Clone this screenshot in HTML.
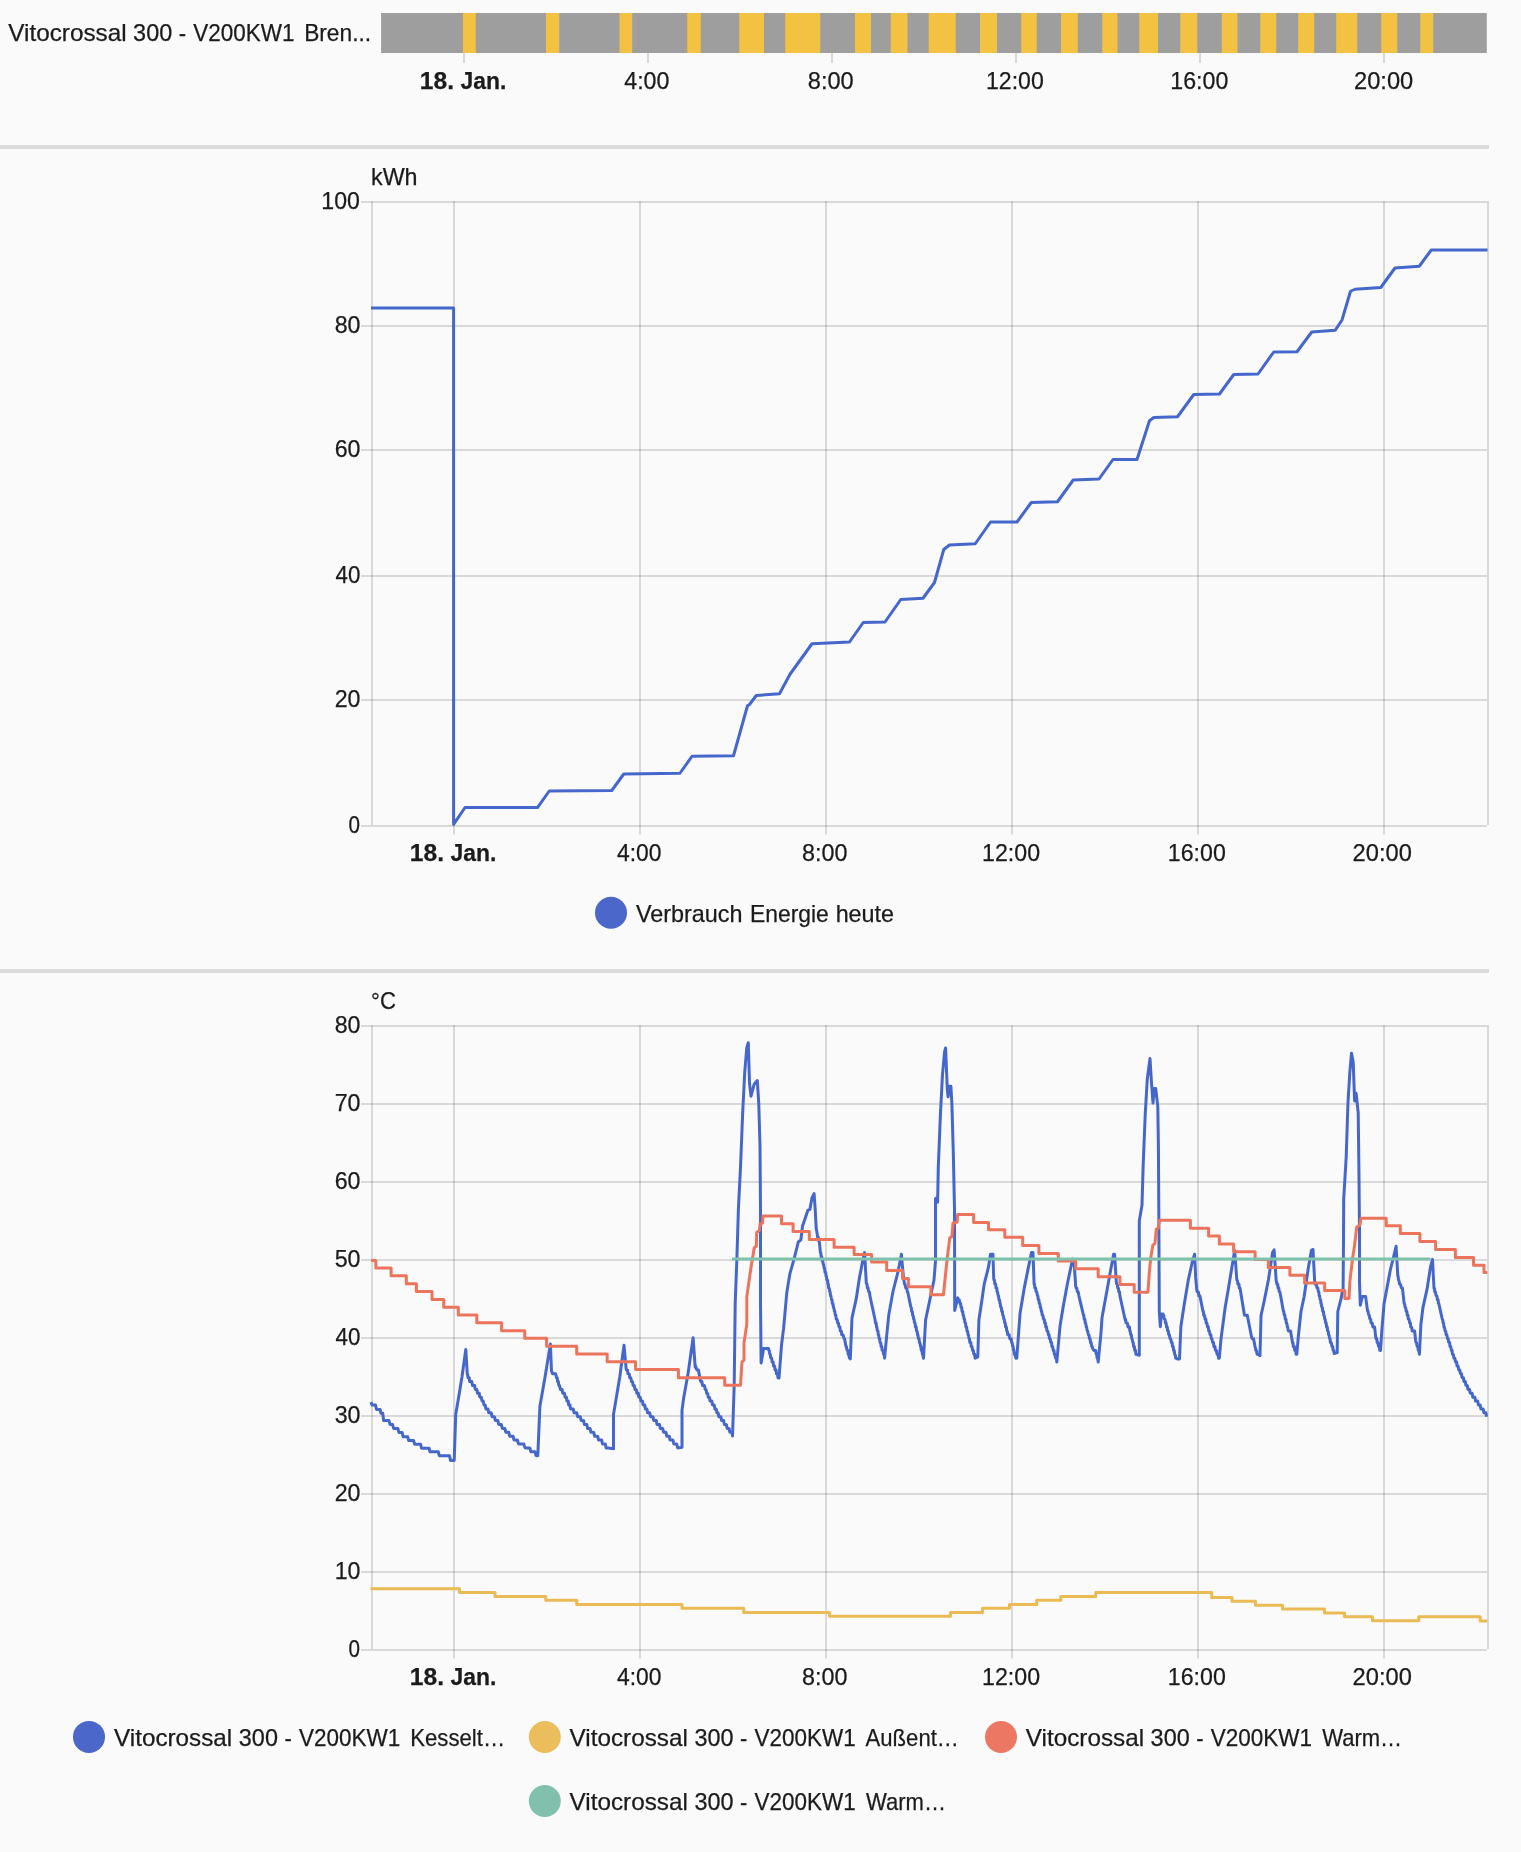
<!DOCTYPE html>
<html lang="de">
<head>
<meta charset="utf-8">
<title>Verlauf</title>
<style>
html,body{margin:0;padding:0;background:#fafafa;}
body{width:1521px;height:1852px;overflow:hidden;font-family:"Liberation Sans",sans-serif;}
svg{display:block;will-change:transform;transform:translateZ(0);}
svg text{font-family:"Liberation Sans",sans-serif;font-size:24px;fill:#1b1b1b;stroke:#1b1b1b;stroke-width:0.25px;}
</style>
</head>
<body>
<svg width="1521" height="1852" viewBox="0 0 1521 1852">
<rect width="1521" height="1852" fill="#fafafa"/>
<rect x="381.1" y="13" width="1105.7" height="40" fill="#9e9e9e"/>
<rect x="463" y="13" width="12.75" height="40" fill="#f3c242"/>
<rect x="546" y="13" width="13.25" height="40" fill="#f3c242"/>
<rect x="619.5" y="13" width="12.75" height="40" fill="#f3c242"/>
<rect x="687.25" y="13" width="13.5" height="40" fill="#f3c242"/>
<rect x="739.25" y="13" width="24.75" height="40" fill="#f3c242"/>
<rect x="785.25" y="13" width="35" height="40" fill="#f3c242"/>
<rect x="855" y="13" width="16" height="40" fill="#f3c242"/>
<rect x="890.75" y="13" width="16.75" height="40" fill="#f3c242"/>
<rect x="928.75" y="13" width="27" height="40" fill="#f3c242"/>
<rect x="980" y="13" width="17" height="40" fill="#f3c242"/>
<rect x="1021.25" y="13" width="15.5" height="40" fill="#f3c242"/>
<rect x="1061" y="13" width="16.75" height="40" fill="#f3c242"/>
<rect x="1102.25" y="13" width="15.25" height="40" fill="#f3c242"/>
<rect x="1139.25" y="13" width="18.75" height="40" fill="#f3c242"/>
<rect x="1180.25" y="13" width="17" height="40" fill="#f3c242"/>
<rect x="1221.75" y="13" width="15.75" height="40" fill="#f3c242"/>
<rect x="1260.25" y="13" width="16" height="40" fill="#f3c242"/>
<rect x="1298.25" y="13" width="16" height="40" fill="#f3c242"/>
<rect x="1336.25" y="13" width="21" height="40" fill="#f3c242"/>
<rect x="1381.25" y="13" width="16" height="40" fill="#f3c242"/>
<rect x="1420.25" y="13" width="13" height="40" fill="#f3c242"/>
<rect x="463" y="53" width="2" height="10" fill="rgba(0,0,0,0.13)"/>
<rect x="647" y="53" width="2" height="10" fill="rgba(0,0,0,0.13)"/>
<rect x="831" y="53" width="2" height="10" fill="rgba(0,0,0,0.13)"/>
<rect x="1015" y="53" width="2" height="10" fill="rgba(0,0,0,0.13)"/>
<rect x="1199" y="53" width="2" height="10" fill="rgba(0,0,0,0.13)"/>
<rect x="1383" y="53" width="2" height="10" fill="rgba(0,0,0,0.13)"/>
<text x="419.82" y="88.8" font-weight="bold" textLength="34.25" lengthAdjust="spacingAndGlyphs">18.</text>
<text x="460.47" y="88.8" font-weight="bold" textLength="45.81" lengthAdjust="spacingAndGlyphs">Jan.</text>
<text x="624.25" y="88.8" textLength="45.2" lengthAdjust="spacingAndGlyphs">4:00</text>
<text x="807.77" y="88.8" textLength="45.94" lengthAdjust="spacingAndGlyphs">8:00</text>
<text x="986.04" y="88.8" textLength="57.77" lengthAdjust="spacingAndGlyphs">12:00</text>
<text x="1170.28" y="88.8" textLength="58.03" lengthAdjust="spacingAndGlyphs">16:00</text>
<text x="1354.01" y="88.8" textLength="59.3" lengthAdjust="spacingAndGlyphs">20:00</text>
<text x="8.3" y="40.8" textLength="118.26" lengthAdjust="spacingAndGlyphs">Vitocrossal</text>
<text x="133.12" y="40.8" textLength="39.12" lengthAdjust="spacingAndGlyphs">300</text>
<text x="178.78" y="40.8" textLength="7.33" lengthAdjust="spacingAndGlyphs">-</text>
<text x="193.3" y="40.8" textLength="101.19" lengthAdjust="spacingAndGlyphs">V200KW1</text>
<text x="304.15" y="40.8" textLength="66.96" lengthAdjust="spacingAndGlyphs">Bren...</text>
<rect x="0" y="145" width="1489" height="4" fill="#dbdbdb"/>
<rect x="0" y="969" width="1489" height="4" fill="#dbdbdb"/>
<rect x="361" y="201" width="1126" height="2" fill="rgba(0,0,0,0.13)"/>
<text x="321.34" y="208.5" textLength="38.51" lengthAdjust="spacingAndGlyphs">100</text>
<rect x="361" y="325" width="1126" height="2" fill="rgba(0,0,0,0.13)"/>
<text x="334.63" y="332.5" textLength="25.85" lengthAdjust="spacingAndGlyphs">80</text>
<rect x="361" y="449" width="1126" height="2" fill="rgba(0,0,0,0.13)"/>
<text x="334.63" y="456.5" textLength="25.85" lengthAdjust="spacingAndGlyphs">60</text>
<rect x="361" y="575" width="1126" height="2" fill="rgba(0,0,0,0.13)"/>
<text x="335.6" y="582.5" textLength="24.85" lengthAdjust="spacingAndGlyphs">40</text>
<rect x="361" y="699" width="1126" height="2" fill="rgba(0,0,0,0.13)"/>
<text x="334.63" y="706.5" textLength="25.85" lengthAdjust="spacingAndGlyphs">20</text>
<rect x="361" y="825" width="1126" height="2" fill="rgba(0,0,0,0.13)"/>
<text x="348.6" y="832.5" textLength="11.51" lengthAdjust="spacingAndGlyphs">0</text>
<rect x="371" y="201" width="2" height="624" fill="rgba(0,0,0,0.13)"/>
<rect x="1487" y="201" width="2" height="624" fill="rgba(0,0,0,0.13)"/>
<rect x="453" y="201" width="2" height="633.5" fill="rgba(0,0,0,0.13)"/>
<rect x="639" y="201" width="2" height="633.5" fill="rgba(0,0,0,0.13)"/>
<rect x="825" y="201" width="2" height="633.5" fill="rgba(0,0,0,0.13)"/>
<rect x="1011" y="201" width="2" height="633.5" fill="rgba(0,0,0,0.13)"/>
<rect x="1197" y="201" width="2" height="633.5" fill="rgba(0,0,0,0.13)"/>
<rect x="1383" y="201" width="2" height="633.5" fill="rgba(0,0,0,0.13)"/>
<text x="409.82" y="860.6" font-weight="bold" textLength="34.25" lengthAdjust="spacingAndGlyphs">18.</text>
<text x="450.47" y="860.6" font-weight="bold" textLength="45.81" lengthAdjust="spacingAndGlyphs">Jan.</text>
<text x="617" y="860.6" textLength="44.43" lengthAdjust="spacingAndGlyphs">4:00</text>
<text x="802.03" y="860.6" textLength="45.42" lengthAdjust="spacingAndGlyphs">8:00</text>
<text x="982.03" y="860.6" textLength="58.03" lengthAdjust="spacingAndGlyphs">12:00</text>
<text x="1167.78" y="860.6" textLength="58.03" lengthAdjust="spacingAndGlyphs">16:00</text>
<text x="1352.61" y="860.6" textLength="59.25" lengthAdjust="spacingAndGlyphs">20:00</text>
<text x="371.03" y="184.9" textLength="46.54" lengthAdjust="spacingAndGlyphs">kWh</text>
<polyline points="371,308 453.6,308 453.6,824.3 465,807.5 537.5,807.6 549.25,791 611.75,790.5 623.75,774 680,773.25 692,756.25 733.5,755.75 747.5,705.75 749.5,704.5 756.25,695.5 779.5,693.75 790,674.25 812,643.75 849.5,642 863.25,622.5 885,622 900.75,599.5 923,598.25 934.5,582.5 943.75,549.5 949.5,545 975.25,543.75 990.5,522 1017,522 1031.25,502.5 1057.5,501.75 1073.25,480 1099,479 1113,459.5 1137,459.5 1149.5,420.75 1153.75,417.5 1177.5,416.75 1193.75,394.5 1219.5,394 1233.75,374.5 1258,374 1273.75,352 1297,351.75 1311.75,332 1335.25,330.25 1342,320 1350.5,291.25 1355,289.25 1380.75,287.5 1395,268 1419.25,266.25 1431.25,250 1487.5,250" fill="none" stroke="#4567cc" stroke-width="3" stroke-linejoin="round" stroke-linecap="butt" />
<circle cx="611" cy="912.8" r="16" fill="#4b67c9"/>
<text x="635.9" y="921.8" textLength="106.5" lengthAdjust="spacingAndGlyphs">Verbrauch</text>
<text x="750.05" y="921.8" textLength="78.75" lengthAdjust="spacingAndGlyphs">Energie</text>
<text x="835.63" y="921.8" textLength="58.43" lengthAdjust="spacingAndGlyphs">heute</text>
<rect x="361" y="1025" width="1126" height="2" fill="rgba(0,0,0,0.13)"/>
<text x="334.63" y="1032.5" textLength="25.85" lengthAdjust="spacingAndGlyphs">80</text>
<rect x="361" y="1103" width="1126" height="2" fill="rgba(0,0,0,0.13)"/>
<text x="334.63" y="1110.5" textLength="25.85" lengthAdjust="spacingAndGlyphs">70</text>
<rect x="361" y="1181" width="1126" height="2" fill="rgba(0,0,0,0.13)"/>
<text x="334.63" y="1188.5" textLength="25.85" lengthAdjust="spacingAndGlyphs">60</text>
<rect x="361" y="1259" width="1126" height="2" fill="rgba(0,0,0,0.13)"/>
<text x="334.63" y="1266.5" textLength="25.85" lengthAdjust="spacingAndGlyphs">50</text>
<rect x="361" y="1337" width="1126" height="2" fill="rgba(0,0,0,0.13)"/>
<text x="335.6" y="1344.5" textLength="24.85" lengthAdjust="spacingAndGlyphs">40</text>
<rect x="361" y="1415" width="1126" height="2" fill="rgba(0,0,0,0.13)"/>
<text x="334.63" y="1422.5" textLength="25.85" lengthAdjust="spacingAndGlyphs">30</text>
<rect x="361" y="1493" width="1126" height="2" fill="rgba(0,0,0,0.13)"/>
<text x="334.63" y="1500.5" textLength="25.85" lengthAdjust="spacingAndGlyphs">20</text>
<rect x="361" y="1571" width="1126" height="2" fill="rgba(0,0,0,0.13)"/>
<text x="334.63" y="1578.5" textLength="25.85" lengthAdjust="spacingAndGlyphs">10</text>
<rect x="361" y="1649" width="1126" height="2" fill="rgba(0,0,0,0.13)"/>
<text x="348.6" y="1656.5" textLength="11.51" lengthAdjust="spacingAndGlyphs">0</text>
<rect x="371" y="1025" width="2" height="624" fill="rgba(0,0,0,0.13)"/>
<rect x="1487" y="1025" width="2" height="624" fill="rgba(0,0,0,0.13)"/>
<rect x="453" y="1025" width="2" height="633.5" fill="rgba(0,0,0,0.13)"/>
<rect x="639" y="1025" width="2" height="633.5" fill="rgba(0,0,0,0.13)"/>
<rect x="825" y="1025" width="2" height="633.5" fill="rgba(0,0,0,0.13)"/>
<rect x="1011" y="1025" width="2" height="633.5" fill="rgba(0,0,0,0.13)"/>
<rect x="1197" y="1025" width="2" height="633.5" fill="rgba(0,0,0,0.13)"/>
<rect x="1383" y="1025" width="2" height="633.5" fill="rgba(0,0,0,0.13)"/>
<text x="409.82" y="1684.6" font-weight="bold" textLength="34.25" lengthAdjust="spacingAndGlyphs">18.</text>
<text x="450.47" y="1684.6" font-weight="bold" textLength="45.81" lengthAdjust="spacingAndGlyphs">Jan.</text>
<text x="617" y="1684.6" textLength="44.43" lengthAdjust="spacingAndGlyphs">4:00</text>
<text x="802.03" y="1684.6" textLength="45.42" lengthAdjust="spacingAndGlyphs">8:00</text>
<text x="982.03" y="1684.6" textLength="58.03" lengthAdjust="spacingAndGlyphs">12:00</text>
<text x="1167.78" y="1684.6" textLength="58.03" lengthAdjust="spacingAndGlyphs">16:00</text>
<text x="1352.61" y="1684.6" textLength="59.25" lengthAdjust="spacingAndGlyphs">20:00</text>
<text x="371.08" y="1008.8" textLength="24.78" lengthAdjust="spacingAndGlyphs">°C</text>
<polyline points="370.9,1402.2 372.2,1405.1 375.5,1405.1 376.5,1409.4 380.1,1409.4 381,1413.3 382.75,1413.3 383.6,1420.6 389,1420.6 390,1424.5 392.6,1424.5 393.6,1428.5 397.9,1428.5 398.9,1432.4 402.1,1432.4 403.1,1436.7 407.7,1436.7 408.7,1440.6 413.65,1440.6 414.6,1444.2 420.55,1444.2 421.5,1448.2 429.1,1448.2 430,1451.8 438.3,1451.8 439.3,1455.7 449.5,1455.7 450.5,1460.4 454.2,1460.4 455.7,1414.6 458.9,1395.7 462,1376.8 465.8,1349.4 467.3,1374.6 467.69,1374.57 468.07,1377.7 468.46,1377.7 468.84,1377.7 469.23,1377.7 469.61,1381.6 470,1381.6 470.36,1381.6 470.72,1381.6 471.08,1381.6 471.44,1381.6 471.8,1381.6 472.16,1383.4 472.52,1385.5 472.88,1385.5 473.24,1385.5 473.6,1385.5 473.95,1385.5 474.3,1385.5 474.66,1385.5 475.01,1388.2 475.36,1389.4 475.71,1389.4 476.07,1389.4 476.42,1389.4 476.77,1389.4 477.12,1390.6 477.48,1393.3 477.83,1393.3 478.18,1393.3 478.53,1393.3 478.89,1393.3 479.24,1393.3 479.59,1396 479.94,1397.2 480.3,1397.2 480.65,1397.2 481,1397.2 481.37,1397.2 481.74,1399.9 482.11,1401.1 482.49,1401.1 482.86,1401.1 483.23,1401.1 483.6,1403.05 483.97,1405 484.34,1405 484.71,1405 485.09,1405 485.46,1406.2 485.83,1408.9 486.2,1408.9 486.55,1408.9 486.91,1408.9 487.26,1408.9 487.61,1408.9 487.97,1408.9 488.32,1410.7 488.67,1412.8 489.03,1412.8 489.38,1412.8 489.73,1412.8 490.09,1412.8 490.44,1412.8 490.79,1412.8 491.15,1412.8 491.5,1414 491.85,1416.1 492.21,1416.7 492.56,1416.7 492.91,1416.7 493.27,1416.7 493.62,1416.7 493.97,1416.7 494.33,1416.7 494.68,1417.3 495.03,1419.4 495.39,1420.6 495.74,1420.6 496.09,1420.6 496.45,1420.6 496.8,1420.6 497.15,1420.6 497.5,1420.6 497.85,1420.6 498.2,1422.03 498.55,1423.97 498.9,1424.5 499.25,1424.5 499.6,1424.5 499.95,1424.5 500.3,1424.5 500.65,1424.5 501,1424.5 501.35,1424.5 501.7,1425.77 502.05,1427.7 502.4,1428.4 502.75,1428.4 503.1,1428.4 503.45,1428.4 503.8,1428.4 504.15,1428.4 504.5,1428.4 504.85,1428.4 505.2,1429.5 505.55,1431.43 505.9,1432.3 506.25,1432.3 506.6,1432.3 506.95,1432.3 507.3,1432.3 507.66,1432.3 508.02,1432.3 508.39,1432.3 508.75,1432.3 509.11,1433.69 509.47,1435.33 509.83,1436.2 510.2,1436.2 510.56,1436.2 510.92,1436.2 511.28,1436.2 511.64,1436.2 512.01,1436.2 512.37,1436.2 512.73,1436.2 513.09,1436.2 513.46,1437.74 513.82,1439.38 514.18,1440.1 514.54,1440.1 514.9,1440.1 515.27,1440.1 515.63,1440.1 515.99,1440.1 516.35,1440.1 516.71,1440.1 517.08,1440.1 517.44,1440.16 517.8,1441.8 518.15,1442.85 518.5,1443.9 518.85,1444 519.2,1444 519.55,1444 519.9,1444 520.25,1444 520.6,1444 520.95,1444 521.3,1444 521.65,1444 522,1444 522.35,1444 522.7,1444 523.05,1444 523.4,1444 523.75,1444.05 524.1,1445.1 524.45,1446.15 524.8,1447.2 525.15,1447.9 525.5,1447.9 525.85,1447.9 526.2,1447.9 526.55,1447.9 526.9,1447.9 527.25,1447.9 527.6,1447.9 527.95,1447.9 528.3,1447.9 528.65,1447.9 529,1447.9 529.35,1447.9 529.7,1447.9 530.05,1448.66 530.4,1449.97 530.75,1451.29 531.1,1451.8 531.45,1451.8 531.8,1451.8 532.15,1451.8 532.5,1451.8 532.85,1451.8 533.2,1451.8 533.55,1451.8 533.9,1451.8 534.25,1451.8 534.6,1451.8 534.95,1451.8 535.3,1452.75 535.65,1454.06 536,1455.37 536.35,1455.7 536.7,1455.7 537.07,1455.7 537.43,1455.7 537.8,1455.7 539.9,1406.2 545.1,1376.8 550.4,1344.1 551.5,1371.5 551.85,1371.39 552.2,1372.68 552.55,1373.8 552.9,1373.8 553.25,1373.8 553.6,1373.8 553.95,1373.8 554.3,1373.8 554.65,1373.8 555,1373.8 555.35,1373.8 555.7,1373.8 556.08,1375.77 556.46,1377.7 556.85,1377.7 557.23,1377.7 557.61,1381.6 557.99,1381.6 558.37,1381.6 558.75,1384.98 559.14,1385.5 559.52,1385.5 559.9,1386.7 560.27,1389.4 560.64,1389.4 561.01,1389.4 561.39,1389.4 561.76,1389.4 562.13,1389.4 562.5,1392.1 562.87,1393.3 563.24,1393.3 563.61,1393.3 563.99,1393.3 564.36,1393.3 564.73,1394.5 565.1,1397.2 565.45,1397.2 565.81,1397.2 566.16,1397.2 566.51,1397.37 566.87,1401.1 567.22,1401.1 567.57,1401.1 567.93,1401.1 568.28,1401.1 568.63,1404.97 568.99,1405 569.34,1405 569.69,1405 570.05,1405 570.4,1408.7 570.75,1408.9 571.1,1408.9 571.45,1408.9 571.8,1408.9 572.15,1408.9 572.5,1408.9 572.85,1408.9 573.2,1408.9 573.55,1410.35 573.9,1412.27 574.25,1412.8 574.6,1412.8 574.95,1412.8 575.3,1412.8 575.65,1412.8 576,1412.8 576.35,1412.8 576.7,1412.8 577.05,1413.92 577.4,1415.83 577.75,1416.7 578.1,1416.7 578.45,1416.7 578.8,1416.7 579.15,1416.7 579.5,1416.7 579.85,1416.7 580.2,1416.7 580.55,1417.48 580.9,1419.4 581.25,1420.6 581.6,1420.6 581.95,1420.6 582.3,1420.6 582.65,1420.6 583,1420.6 583.35,1420.6 583.7,1420.73 584.05,1422.85 584.4,1424.5 584.75,1424.5 585.1,1424.5 585.45,1424.5 585.8,1424.5 586.15,1424.5 586.5,1424.5 586.85,1424.5 587.2,1426.3 587.55,1428.4 587.9,1428.4 588.25,1428.4 588.6,1428.4 588.95,1428.4 589.3,1428.4 589.65,1428.4 590,1428.4 590.35,1429.75 590.7,1431.87 591.05,1432.3 591.4,1432.3 591.75,1432.3 592.11,1432.3 592.46,1432.3 592.81,1432.3 593.17,1432.3 593.52,1432.3 593.87,1432.75 594.23,1434.5 594.58,1436.2 594.93,1436.2 595.29,1436.2 595.64,1436.2 595.99,1436.2 596.35,1436.2 596.7,1436.2 597.05,1436.2 597.41,1436.2 597.76,1436.4 598.11,1438.15 598.47,1439.9 598.82,1440.1 599.17,1440.1 599.53,1440.1 599.88,1440.1 600.23,1440.1 600.59,1440.1 600.94,1440.1 601.29,1440.1 601.65,1440.1 602,1441.8 602.37,1443.77 602.74,1444 603.11,1444 603.48,1444 603.85,1444 604.22,1444 604.59,1444 604.96,1444 605.34,1444 605.71,1445.91 606.08,1447.88 606.45,1447.9 606.82,1447.9 607.19,1447.9 607.56,1447.9 607.93,1447.9 608.3,1447.9 613.5,1448.7 613.5,1414.6 615.6,1402 619.8,1376.8 624,1345.2 626.1,1368.3 626.46,1369.9 626.82,1369.9 627.17,1369.9 627.53,1369.93 627.89,1373.8 628.25,1373.8 628.61,1373.8 628.97,1373.8 629.33,1374.12 629.68,1377.7 630.04,1377.7 630.4,1377.7 630.79,1377.7 631.17,1379.65 631.56,1381.6 631.95,1381.6 632.34,1381.6 632.73,1382.55 633.11,1385.5 633.5,1385.5 633.87,1385.5 634.24,1385.5 634.61,1387.32 634.98,1389.4 635.35,1389.4 635.72,1389.4 636.09,1389.4 636.46,1390.25 636.84,1393.3 637.21,1393.3 637.58,1393.3 637.95,1393.3 638.32,1393.3 638.69,1396.88 639.06,1397.2 639.43,1397.2 639.8,1397.2 640.15,1397.2 640.5,1398.52 640.85,1401.1 641.2,1401.1 641.55,1401.1 641.9,1401.1 642.25,1401.1 642.6,1401.3 642.95,1404.36 643.3,1405 643.65,1405 644,1405 644.35,1405 644.7,1405 645.05,1407.14 645.4,1408.9 645.75,1408.9 646.1,1408.9 646.45,1408.9 646.8,1408.9 647.15,1409.91 647.5,1412.8 647.85,1412.8 648.2,1412.8 648.55,1412.8 648.91,1412.8 649.26,1412.8 649.61,1412.8 649.97,1414 650.32,1416.1 650.67,1416.7 651.03,1416.7 651.38,1416.7 651.73,1416.7 652.09,1416.7 652.44,1416.7 652.79,1416.7 653.15,1417.3 653.5,1419.4 653.85,1420.6 654.21,1420.6 654.56,1420.6 654.91,1420.6 655.27,1420.6 655.62,1420.6 655.97,1420.6 656.33,1420.6 656.68,1422.7 657.03,1424.5 657.39,1424.5 657.74,1424.5 658.09,1424.5 658.45,1424.5 658.8,1424.5 659.15,1424.5 659.5,1424.5 659.85,1426.05 660.2,1428.17 660.55,1428.4 660.9,1428.4 661.25,1428.4 661.6,1428.4 661.95,1428.4 662.3,1428.4 662.65,1428.4 663,1429.5 663.35,1431.62 663.7,1432.3 664.05,1432.3 664.4,1432.3 664.75,1432.3 665.1,1432.3 665.45,1432.3 665.8,1432.3 666.15,1432.95 666.5,1435.07 666.85,1436.2 667.2,1436.2 667.55,1436.2 667.9,1436.2 668.25,1436.2 668.6,1436.2 668.95,1436.2 669.3,1436.4 669.65,1438.21 670,1440.02 670.35,1440.1 670.7,1440.1 671.05,1440.1 671.4,1440.1 671.75,1440.1 672.1,1440.1 672.45,1440.1 672.8,1440.1 673.15,1440.68 673.5,1442.49 673.85,1444 674.2,1444 674.55,1444 674.9,1444 675.25,1444 675.6,1444 675.95,1444 676.3,1444 676.65,1444 677,1444.97 677.35,1446.78 677.7,1447.9 678.05,1447.9 678.4,1447.9 682,1447.2 682,1410.4 683.7,1397.8 687.9,1374.6 693.1,1337.8 695.2,1367.3 695.56,1366 695.91,1367.03 696.27,1368.2 696.62,1369.37 696.98,1369.9 697.33,1369.9 697.69,1369.9 698.04,1369.9 698.4,1369.9 700.5,1381 700.85,1381.6 701.2,1381.6 701.55,1381.6 701.9,1381.6 702.25,1383.92 702.6,1385.5 702.95,1385.5 703.3,1385.5 703.65,1385.5 704,1385.5 704.35,1385.5 704.7,1386.7 705.08,1389.4 705.46,1389.4 705.85,1389.4 706.23,1390.19 706.61,1393.3 706.99,1393.3 707.37,1393.3 707.75,1393.68 708.14,1397.2 708.52,1397.2 708.9,1397.2 709.25,1397.2 709.61,1398 709.96,1400.8 710.31,1401.1 710.67,1401.1 711.02,1401.1 711.37,1401.1 711.73,1401.1 712.08,1402 712.43,1404.8 712.79,1405 713.14,1405 713.49,1405 713.85,1405 714.2,1405 714.58,1407.02 714.96,1408.9 715.35,1408.9 715.73,1408.9 716.11,1408.9 716.49,1410.51 716.87,1412.8 717.25,1412.8 717.64,1412.8 718.02,1412.8 718.4,1414 718.75,1416.5 719.1,1416.7 719.46,1416.7 719.81,1416.7 720.16,1416.7 720.51,1416.7 720.87,1416.7 721.22,1418.4 721.57,1420.6 721.92,1420.6 722.28,1420.6 722.63,1420.6 722.98,1420.6 723.33,1420.6 723.69,1420.6 724.04,1422.8 724.39,1424.5 724.74,1424.5 725.1,1424.5 725.45,1424.5 725.8,1424.5 726.15,1424.5 726.51,1424.7 726.86,1427.2 727.21,1428.4 727.56,1428.4 727.92,1428.4 728.27,1428.4 728.62,1428.4 728.97,1428.4 729.33,1429.1 729.68,1431.6 730.03,1432.3 730.38,1432.3 730.74,1432.3 731.09,1432.3 731.44,1432.3 731.79,1432.3 732.15,1433.5 732.5,1436 734.2,1385.2 735.2,1303.1 736.9,1258 738.4,1209.4 740.5,1167.3 742.6,1114.7 744.7,1072.6 746.8,1047.4 748.3,1042.7 749.5,1083.1 751,1096.2 754.2,1084.2 757.3,1080.6 758.8,1104.2 760,1146.2 760.5,1209.4 760.5,1303 761.1,1363 763.6,1348.4 768.5,1348.4 768.86,1350.4 769.21,1350.4 769.57,1352.74 769.93,1354.3 770.29,1354.3 770.64,1357.29 771,1358.2 771.36,1358.2 771.73,1358.2 772.09,1362.1 772.45,1362.1 772.82,1362.1 773.18,1362.12 773.55,1366 773.91,1366 774.27,1366 774.64,1366.06 775,1369.9 775.36,1369.9 775.73,1369.9 776.09,1370.01 776.45,1373.8 776.82,1373.8 777.18,1373.8 777.55,1373.95 777.91,1377.7 778.27,1377.7 778.64,1377.7 779,1377.9 781.5,1345.2 783.6,1328.4 786.8,1292.6 789.9,1273.7 794.1,1258.9 798.3,1242 800.9,1239.9 802.5,1226.2 806.8,1213.6 807.8,1210.4 809.9,1209.4 812,1197.8 814.1,1193.6 815.2,1209.4 816.2,1228.3 817.3,1234.6 817.65,1237.3 818,1237.3 818.35,1237.3 818.7,1241.2 819.05,1241.2 819.4,1242.4 820.4,1252.6 820.75,1252.9 821.11,1256.8 821.46,1256.8 821.81,1256.8 822.17,1260.7 822.52,1260.7 822.87,1261.63 823.23,1264.6 823.58,1264.6 823.93,1267.13 824.29,1268.5 824.64,1268.5 824.99,1272.4 825.35,1272.4 825.7,1272.4 826.07,1276.3 826.44,1276.3 826.81,1279.59 827.18,1280.2 827.55,1280.2 827.92,1284.1 828.29,1284.1 828.66,1288 829.04,1288 829.41,1288.99 829.78,1291.9 830.15,1291.9 830.52,1295.8 830.89,1295.8 831.26,1297.94 831.63,1299.7 832,1299.7 832.35,1303.6 832.7,1303.6 833.05,1303.8 833.4,1307.5 833.75,1307.5 834.1,1309.2 834.45,1311.4 834.8,1311.4 835.15,1314.6 835.5,1315.3 835.85,1315.3 836.2,1319.2 836.57,1319.2 836.94,1319.2 837.31,1320.19 837.68,1323.1 838.05,1323.1 838.42,1323.1 838.79,1325.65 839.16,1327 839.54,1327 839.91,1327 840.28,1330.9 840.65,1330.9 841.02,1330.9 841.39,1331.31 841.76,1334.8 842.13,1334.8 842.5,1334.8 842.85,1334.8 843.2,1335 843.55,1336.75 843.9,1338.5 844.25,1338.7 844.6,1338.7 845.7,1345.2 846.05,1346.5 846.41,1346.5 846.76,1349.16 847.12,1350.4 847.47,1350.4 847.82,1350.52 848.18,1354.3 848.53,1354.3 848.88,1354.3 849.24,1357.54 849.59,1358.2 849.95,1358.2 850.3,1358.9 852,1317.8 856.2,1298.9 859.4,1277.9 863.1,1258.9 864.6,1252.6 866.3,1283.1 866.66,1284.1 867.02,1284.1 867.38,1288 867.74,1288 868.1,1288 868.46,1290.5 868.82,1291.9 869.18,1291.9 869.54,1292.3 869.9,1295.8 875.1,1320 875.45,1323.1 875.81,1323.1 876.16,1323.1 876.51,1327 876.87,1327 877.22,1330.4 877.57,1330.9 877.93,1330.9 878.28,1334.8 878.63,1334.8 878.99,1337.7 879.34,1338.7 879.69,1338.7 880.05,1342.6 880.4,1342.6 880.75,1343.01 881.1,1346.5 881.45,1346.5 881.8,1346.5 882.15,1350.24 882.5,1350.4 882.85,1350.4 883.2,1351.77 883.55,1354.3 883.9,1354.3 884.25,1354.3 884.6,1358.2 886.7,1335.7 888.8,1314.7 893,1291.5 898.3,1270.5 901.4,1254.3 903.5,1277.9 904.6,1284.2 904.99,1284.1 905.38,1285.93 905.76,1288 906.15,1288 906.54,1288 906.93,1288.57 907.31,1291.9 907.7,1291.9 910.9,1307.3 911.25,1307.5 911.6,1311.4 911.95,1311.4 912.3,1311.4 912.65,1315.3 913,1315.3 913.35,1316.69 913.7,1319.2 914.05,1319.2 914.4,1322.18 914.75,1323.1 915.1,1323.1 915.45,1327 915.8,1327 916.15,1327 916.5,1330.9 916.85,1330.9 917.2,1331.6 917.57,1334.8 917.94,1334.8 918.31,1338.24 918.68,1338.7 919.05,1338.7 919.42,1342.6 919.79,1342.6 920.16,1344.09 920.54,1346.5 920.91,1346.5 921.28,1350.4 921.65,1350.4 922.02,1350.4 922.39,1354.3 922.76,1354.3 923.13,1356.59 923.5,1358.2 925.6,1320 930.9,1294.7 934,1280 935.5,1261 935.5,1198.8 935.85,1198.3 936.2,1200 936.55,1202.2 936.9,1202.2 937.25,1202.2 937.6,1202.2 938.3,1167.3 940.4,1114.7 942.5,1074.7 944.6,1051.6 945.6,1048 947.3,1089.4 948.1,1096.8 949.4,1086.3 950.9,1086.3 951.9,1104.2 953.4,1156.8 954.5,1209.4 954.7,1310.5 957.8,1297.9 958.16,1299.7 958.51,1299.7 958.87,1299.7 959.23,1299.7 959.59,1301.47 959.94,1303.6 960.3,1303.6 960.65,1303.6 961,1307.38 961.35,1307.5 961.7,1307.5 962.05,1311.4 962.4,1311.4 962.75,1311.4 963.1,1315.3 963.45,1315.3 963.8,1316.92 964.15,1319.2 964.5,1319.2 964.85,1322.4 965.21,1323.1 965.56,1323.1 965.91,1327 966.27,1327 966.62,1327 966.97,1330.9 967.33,1330.9 967.68,1331.6 968.03,1334.8 968.39,1334.8 968.74,1337 969.09,1338.7 969.45,1338.7 969.8,1342.4 970.15,1342.6 970.51,1342.6 970.86,1342.6 971.21,1346.5 971.57,1346.5 971.92,1346.5 972.27,1348.07 972.63,1350.4 972.98,1350.4 973.33,1350.4 973.69,1353.53 974.04,1354.3 974.39,1354.3 974.75,1354.3 975.1,1358.2 977.8,1356.8 978.9,1320 982.4,1296.8 984.2,1284.2 988.4,1267.4 990.5,1254.3 993,1254.3 993.7,1278.9 994.09,1280.2 994.48,1280.2 994.86,1284.1 995.25,1284.1 995.64,1284.1 996.02,1288 996.41,1288 996.8,1288 997.15,1291.9 997.5,1291.9 997.85,1293.97 998.2,1295.8 998.55,1295.8 998.9,1299.7 999.25,1299.7 999.6,1300.07 999.95,1303.6 1000.3,1303.6 1000.65,1306.84 1001,1307.5 1001.36,1307.5 1001.71,1311.4 1002.07,1311.4 1002.42,1311.4 1002.78,1315.3 1003.13,1315.3 1003.49,1316.69 1003.84,1319.2 1004.2,1319.2 1004.56,1322.18 1004.91,1323.1 1005.27,1323.1 1005.62,1327 1005.98,1327 1006.33,1327 1006.69,1330.9 1007.04,1330.9 1007.4,1331.6 1007.75,1334.8 1008.1,1334.8 1008.45,1334.8 1008.8,1334.8 1009.15,1334.8 1009.5,1337 1009.85,1338.7 1010.2,1338.7 1010.55,1338.7 1010.9,1338.7 1011.25,1338.9 1011.6,1342.4 1011.99,1342.6 1012.38,1343.92 1012.76,1346.5 1013.15,1346.5 1013.54,1350.4 1013.93,1350.4 1014.31,1354.3 1014.7,1354.3 1015.12,1354.3 1015.54,1356.9 1015.96,1358.2 1016.38,1358.2 1016.8,1358.2 1020,1313.6 1024.2,1288.4 1028.4,1267.4 1031.5,1252.6 1033,1252.6 1034.1,1284.2 1034.49,1284.1 1034.87,1288 1035.26,1288 1035.64,1288 1036.03,1291.2 1036.41,1291.9 1036.8,1291.9 1037.15,1294.6 1037.51,1295.8 1037.86,1295.8 1038.21,1299.7 1038.57,1299.7 1038.92,1299.7 1039.27,1303.6 1039.63,1303.6 1039.98,1303.8 1040.33,1307.5 1040.69,1307.5 1041.04,1309.2 1041.39,1311.4 1041.75,1311.4 1042.1,1314.6 1042.47,1315.3 1042.84,1315.3 1043.21,1317.11 1043.59,1319.2 1043.96,1319.2 1044.33,1319.61 1044.7,1323.1 1045.07,1323.1 1045.44,1323.1 1045.81,1327 1046.19,1327 1046.56,1327 1046.93,1330.66 1047.3,1330.9 1047.65,1330.9 1048.01,1332.3 1048.36,1334.8 1048.71,1334.8 1049.07,1334.8 1049.42,1338.7 1049.77,1338.7 1050.13,1338.7 1050.48,1340.3 1050.83,1342.6 1051.19,1342.6 1051.54,1342.6 1051.89,1346.5 1052.25,1346.5 1052.6,1346.5 1052.95,1348.41 1053.3,1350.4 1053.65,1350.4 1054,1350.4 1054.35,1354.3 1054.7,1354.3 1055.05,1354.3 1055.4,1357.17 1055.75,1358.2 1056.1,1358.2 1056.45,1358.69 1056.8,1362.1 1060,1326.3 1063.1,1307.3 1067.3,1284.2 1072.6,1259 1072.95,1260.7 1073.3,1260.7 1073.65,1260.7 1074,1260.7 1075.7,1286.3 1076.06,1288 1076.41,1288 1076.77,1288 1077.12,1290.37 1077.48,1291.9 1077.83,1291.9 1078.19,1291.9 1078.54,1293.43 1078.9,1295.8 1083.1,1313.6 1083.45,1315.3 1083.8,1315.3 1084.15,1319.2 1084.5,1319.2 1084.85,1319.2 1085.2,1323.1 1085.55,1323.1 1085.9,1324.13 1086.25,1327 1086.6,1327 1086.95,1329.66 1087.3,1330.9 1087.65,1330.9 1088.01,1333.03 1088.36,1334.8 1088.71,1334.8 1089.07,1335.33 1089.42,1338.7 1089.77,1338.7 1090.13,1338.7 1090.48,1342.6 1090.83,1342.6 1091.19,1342.6 1091.54,1345.9 1091.89,1346.5 1092.25,1346.5 1092.6,1348.2 1092.99,1348.91 1093.37,1349.63 1093.76,1350.34 1094.14,1350.4 1094.53,1350.4 1094.91,1350.4 1095.3,1350.4 1095.66,1350.4 1096.03,1352.85 1096.39,1354.3 1096.75,1354.3 1097.11,1358.2 1097.47,1358.2 1097.84,1359.77 1098.2,1362.1 1101,1332.6 1102,1317.8 1106.2,1294.7 1110.4,1271.6 1113.6,1254.3 1114.6,1254.3 1116.3,1282.1 1116.66,1284.1 1117.02,1284.1 1117.38,1285.2 1117.74,1288 1118.1,1288 1118.46,1288.5 1118.82,1291.9 1119.18,1291.9 1119.54,1291.9 1119.9,1295.8 1125.2,1320 1125.55,1319.2 1125.9,1322.4 1126.25,1323.1 1126.6,1323.1 1126.95,1323.1 1127.3,1323.1 1127.65,1324.3 1128,1327 1128.35,1327 1128.7,1327 1129.05,1327 1129.4,1327 1129.78,1330.9 1130.16,1330.9 1130.55,1333.51 1130.93,1334.8 1131.31,1334.8 1131.69,1338.7 1132.07,1338.7 1132.45,1340.49 1132.84,1342.6 1133.22,1342.6 1133.6,1346.5 1133.99,1346.5 1134.38,1346.5 1134.76,1350.4 1135.15,1350.4 1135.54,1350.4 1135.92,1354.3 1136.31,1354.3 1136.7,1354.3 1139.3,1355.3 1139.3,1220.9 1142,1205.1 1143.1,1167.3 1145.2,1114.7 1147.3,1078.9 1150,1058.5 1151.5,1083.1 1153,1103.1 1154.2,1088.4 1155.7,1088.4 1157.8,1106.3 1158.4,1146.2 1158.8,1209.4 1159.3,1311.5 1160.3,1326.7 1161.4,1314.1 1163,1314.1 1163.36,1315.3 1163.71,1315.3 1164.07,1318.33 1164.42,1319.2 1164.78,1319.2 1165.13,1319.57 1165.49,1323.1 1165.84,1323.1 1166.2,1323.1 1166.56,1327 1166.91,1327 1167.27,1327 1167.62,1330.76 1167.98,1330.9 1168.33,1330.9 1168.69,1334.32 1169.04,1334.8 1169.4,1334.8 1169.79,1337.44 1170.18,1338.7 1170.56,1338.7 1170.95,1339.65 1171.34,1342.6 1171.72,1342.6 1172.11,1342.6 1172.5,1346.5 1172.86,1346.5 1173.21,1346.5 1173.57,1350.4 1173.92,1350.4 1174.28,1350.49 1174.63,1354.3 1174.99,1354.3 1175.34,1355.22 1175.7,1358.2 1176.1,1358.2 1176.5,1358.2 1176.9,1358.2 1177.3,1358.9 1179.5,1358.9 1180.9,1326.3 1184.1,1305.2 1188.3,1280 1192.5,1261 1194.6,1254.3 1195.7,1277.9 1196.7,1289.4 1197.06,1291.31 1197.41,1291.9 1197.77,1291.9 1198.12,1291.9 1198.48,1292.16 1198.83,1295.8 1199.19,1295.8 1199.54,1295.8 1199.9,1295.8 1203,1311.5 1203.35,1311.4 1203.71,1315.3 1204.06,1315.3 1204.41,1315.3 1204.77,1316.67 1205.12,1319.2 1205.47,1319.2 1205.83,1319.2 1206.18,1323.1 1206.53,1323.1 1206.89,1323.1 1207.24,1324.9 1207.59,1327 1207.95,1327 1208.3,1327 1208.67,1330.9 1209.04,1330.9 1209.41,1330.9 1209.79,1333.03 1210.16,1334.8 1210.53,1334.8 1210.9,1334.8 1211.27,1338.7 1211.64,1338.7 1212.01,1338.7 1212.39,1341.08 1212.76,1342.6 1213.13,1342.6 1213.5,1342.6 1213.86,1346.5 1214.22,1346.5 1214.59,1346.5 1214.95,1346.5 1215.31,1349.82 1215.67,1350.4 1216.04,1350.4 1216.4,1350.4 1216.76,1352.72 1217.12,1354.3 1217.49,1354.3 1217.85,1354.3 1218.21,1355.62 1218.58,1358.2 1218.94,1358.2 1219.3,1358.2 1221,1338.9 1225.2,1307.3 1228.4,1288.4 1232.6,1263.1 1234.7,1250.5 1236.8,1280 1237.16,1280.2 1237.51,1280.73 1237.87,1284.1 1238.22,1284.1 1238.58,1284.1 1238.93,1284.1 1239.29,1288 1239.64,1288 1240,1288 1244.2,1313.6 1244.59,1315.3 1244.97,1315.3 1245.36,1315.3 1245.75,1315.3 1246.14,1315.3 1246.53,1315.3 1246.91,1315.3 1247.3,1315.3 1251.5,1336.8 1251.92,1338 1252.34,1338.7 1252.76,1338.7 1253.18,1338.7 1253.6,1338.7 1255.1,1347.3 1255.45,1347.95 1255.8,1350.4 1256.15,1350.4 1256.5,1350.4 1256.85,1353.35 1257.2,1354.3 1257.55,1354.3 1257.9,1354.3 1260,1355.7 1261,1315.7 1264.2,1301 1268.4,1280 1272.6,1252.6 1274.1,1249.9 1276.2,1281 1276.57,1282.2 1276.94,1284.1 1277.31,1284.1 1277.68,1284.1 1278.05,1288 1278.42,1288 1278.79,1288 1279.16,1291.6 1279.53,1291.9 1279.9,1291.9 1283.1,1309.4 1283.45,1311.4 1283.81,1311.4 1284.16,1314.7 1284.51,1315.3 1284.87,1315.3 1285.22,1319.2 1285.57,1319.2 1285.93,1319.2 1286.28,1323.1 1286.63,1323.1 1286.99,1324.17 1287.34,1327 1287.69,1327 1288.05,1329.67 1288.4,1330.9 1288.82,1330.9 1289.24,1330.9 1289.66,1330.9 1290.08,1330.9 1290.5,1330.9 1292.6,1343.1 1292.95,1342.6 1293.3,1346.5 1293.65,1346.5 1294,1346.5 1294.35,1346.5 1294.7,1350.4 1295.05,1350.4 1295.4,1350.4 1295.75,1350.4 1296.1,1354.3 1296.45,1354.3 1296.8,1354.3 1298.5,1334.7 1301,1311.5 1304.1,1296.8 1308.4,1267.4 1311.5,1250.1 1313,1249.5 1314.7,1282.1 1315.09,1284.1 1315.47,1284.1 1315.86,1284.1 1316.25,1284.1 1316.64,1285.99 1317.03,1288 1317.41,1288 1317.8,1288 1318.15,1290.08 1318.5,1291.9 1318.85,1291.9 1319.2,1295.8 1319.55,1295.8 1319.9,1298.25 1320.25,1299.7 1320.6,1299.7 1320.95,1303.6 1321.3,1303.6 1321.65,1306.42 1322,1307.5 1322.35,1307.5 1322.7,1311.4 1323.05,1311.4 1323.4,1311.4 1323.75,1315.3 1324.1,1315.3 1324.45,1316.79 1324.8,1319.2 1325.15,1319.2 1325.5,1322.32 1325.85,1323.1 1326.2,1323.1 1326.55,1327 1326.9,1327 1327.25,1327 1327.6,1330.9 1327.95,1330.9 1328.3,1331.6 1328.65,1334.8 1329,1334.8 1329.35,1337 1329.7,1338.7 1330.05,1338.7 1330.4,1342.4 1330.78,1342.6 1331.16,1342.6 1331.54,1344.2 1331.92,1346.5 1332.3,1346.5 1332.68,1346.5 1333.06,1350.4 1333.44,1350.4 1333.82,1350.4 1334.2,1353.6 1337.2,1352.6 1337.8,1311.5 1341,1298.9 1343.1,1288.4 1343.5,1240 1343.7,1198.8 1346.2,1156.8 1347.9,1104.2 1349.8,1072.6 1351.5,1053.2 1353.2,1062.1 1354.6,1101 1356.1,1093.2 1358.2,1112.6 1358.9,1167.3 1359.5,1230.4 1359.5,1282.1 1360.3,1305.2 1362.4,1296.4 1365.6,1296.4 1367.3,1309.4 1367.69,1311.4 1368.08,1311.4 1368.46,1313.47 1368.85,1315.3 1369.24,1315.3 1369.62,1317.75 1370.01,1319.2 1370.4,1319.2 1370.76,1319.54 1371.11,1323.1 1371.47,1323.1 1371.83,1323.1 1372.19,1323.1 1372.54,1324.66 1372.9,1327 1373.33,1327 1373.75,1327 1374.17,1327 1374.6,1327 1375.7,1336.8 1376.07,1338.7 1376.44,1338.7 1376.81,1338.7 1377.18,1342.6 1377.55,1342.6 1377.92,1342.6 1378.28,1345.38 1378.65,1346.5 1379.02,1346.5 1379.39,1346.74 1379.76,1350.4 1380.13,1350.4 1380.5,1350.4 1382,1328.4 1384.1,1303.1 1387.3,1286.3 1390.4,1269.5 1393.6,1256.8 1396.1,1246.3 1397.8,1275.8 1398.15,1276.3 1398.5,1280.2 1398.85,1280.2 1399.2,1281.73 1399.55,1284.1 1399.9,1284.1 1400.26,1284.1 1400.61,1284.8 1400.97,1286.3 1401.33,1287.8 1401.69,1288 1402.04,1288 1402.4,1288 1404.1,1303.1 1404.45,1303.6 1404.8,1305.55 1405.15,1307.5 1405.5,1307.5 1405.85,1308.32 1406.2,1311.4 1406.55,1311.4 1406.9,1311.4 1407.25,1315.3 1407.6,1315.3 1407.95,1315.3 1408.3,1319.2 1408.65,1319.2 1409,1319.2 1409.35,1320.77 1409.7,1323.1 1410.05,1323.1 1410.4,1323.1 1410.75,1327 1411.1,1327 1411.45,1327 1411.8,1327.78 1412.15,1330.9 1412.5,1330.9 1412.92,1330.9 1413.34,1330.9 1413.76,1330.9 1414.18,1330.9 1414.6,1330.9 1415.7,1341 1416.07,1342.6 1416.44,1342.6 1416.81,1344.8 1417.18,1346.5 1417.55,1346.5 1417.92,1347.2 1418.29,1350.4 1418.66,1350.4 1419.03,1350.4 1419.4,1354.3 1420.9,1324.2 1423,1307.3 1427.2,1288.4 1430.4,1267.4 1432.5,1259.4 1434,1288.4 1434.37,1288 1434.74,1291.9 1435.11,1291.9 1435.48,1291.9 1435.85,1294.87 1436.22,1295.8 1436.58,1295.8 1436.95,1296.23 1437.32,1299.7 1437.69,1299.7 1438.06,1299.7 1438.43,1303.25 1438.8,1303.6 1442,1317.8 1442.39,1319.2 1442.78,1320.27 1443.16,1323.1 1443.55,1323.1 1443.94,1327 1444.32,1327 1444.71,1328.76 1445.1,1330.9 1445.45,1330.9 1445.8,1331.52 1446.15,1334.8 1446.5,1334.8 1446.85,1334.8 1447.2,1336.75 1447.55,1338.7 1447.9,1338.7 1448.25,1338.7 1448.6,1341.98 1448.95,1342.6 1449.3,1342.6 1449.65,1342.6 1450,1346.5 1450.35,1346.5 1450.7,1346.5 1451.05,1348.28 1451.4,1350.4 1451.75,1350.4 1452.1,1350.4 1452.45,1354.3 1452.8,1354.3 1453.15,1354.3 1453.5,1355 1453.85,1358.2 1454.2,1358.2 1454.55,1358.2 1454.9,1358.2 1455.25,1360.65 1455.6,1362.1 1455.95,1362.1 1456.3,1362.1 1456.65,1362.1 1457,1366 1457.35,1366 1457.7,1366 1458.05,1366 1458.4,1367.37 1458.75,1369.9 1459.1,1369.9 1459.45,1369.9 1459.8,1369.9 1460.15,1372.18 1460.5,1373.8 1460.85,1373.8 1461.2,1373.8 1461.55,1373.8 1461.9,1377 1462.28,1377.7 1462.66,1377.7 1463.05,1377.7 1463.43,1377.7 1463.81,1380.72 1464.19,1381.6 1464.57,1381.6 1464.95,1381.6 1465.34,1381.6 1465.72,1384.44 1466.1,1385.5 1466.46,1385.5 1466.81,1385.5 1467.17,1385.5 1467.52,1386.03 1467.88,1389.37 1468.23,1389.4 1468.59,1389.4 1468.94,1389.4 1469.3,1389.4 1469.65,1389.72 1470,1392.35 1470.35,1393.3 1470.7,1393.3 1471.05,1393.3 1471.4,1393.3 1471.75,1393.3 1472.1,1393.3 1472.45,1395.12 1472.8,1397.2 1473.15,1397.2 1473.5,1397.2 1473.85,1397.2 1474.2,1397.2 1474.55,1397.2 1474.9,1397.2 1475.25,1399.27 1475.6,1401.1 1475.95,1401.1 1476.3,1401.1 1476.65,1401.1 1477,1401.1 1477.35,1401.1 1477.7,1401.1 1478.06,1403.08 1478.41,1405 1478.77,1405 1479.12,1405 1479.48,1405 1479.83,1405 1480.19,1405 1480.54,1406.92 1480.9,1408.9 1481.29,1408.9 1481.68,1408.9 1482.06,1408.9 1482.45,1408.9 1482.84,1408.9 1483.22,1409.1 1483.61,1411.6 1484,1412.8 1484.37,1412.8 1484.74,1412.8 1485.11,1412.8 1485.49,1412.8 1485.86,1412.8 1486.23,1414.79 1486.6,1416.7" fill="none" stroke="#4567cc" stroke-width="3" stroke-linejoin="round" stroke-linecap="butt" />
<polyline points="370.5,1588.75 459.5,1588.75 459.5,1592.5 495,1592.5 495,1596.5 545.75,1596.5 545.75,1600.25 576.75,1600.25 576.75,1604.5 682,1604.5 682,1608.25 743.75,1608.25 743.75,1612.5 829.5,1612.5 829.5,1616.25 950.5,1616.25 950.5,1612.5 982.5,1612.5 982.5,1608.25 1009.5,1608.25 1009.5,1604.5 1036.75,1604.5 1036.75,1600.25 1060.75,1600.25 1060.75,1596.5 1095.75,1596.5 1095.75,1592.5 1211.75,1592.5 1211.75,1597.5 1232,1597.5 1232,1601.25 1255.5,1601.25 1255.5,1605.25 1282.5,1605.25 1282.5,1609 1324.5,1609 1324.5,1613 1344.5,1613 1344.5,1616.75 1372.5,1616.75 1372.5,1620.75 1418.75,1620.75 1418.75,1616.75 1480.2,1616.75 1480.2,1621 1487.3,1621" fill="none" stroke="#eabb55" stroke-width="3" stroke-linejoin="round" stroke-linecap="butt" stroke-linejoin="round"/>
<polyline points="371,1260.4 375.8,1260.4 375.8,1268 391.1,1268 391.1,1275.8 406.3,1275.8 406.3,1283.8 416.4,1283.8 416.4,1291.5 432,1291.5 432,1299.5 443.7,1299.5 443.7,1307.3 458.3,1307.3 458.3,1314.9 476.8,1314.9 476.8,1322.7 501.6,1322.7 501.6,1330.7 524.7,1330.7 524.7,1338.3 546.6,1338.3 546.6,1346.2 576.7,1346.2 576.7,1354 607.2,1354 607.2,1361.8 635.6,1361.8 635.6,1369.6 678.4,1369.6 678.4,1377.8 724.7,1377.8 724.7,1385.2 740.5,1385.2 742,1362 744,1360 744,1343 746.8,1324.2 746.8,1296.8 751,1267.4 754.2,1248 756.3,1246.2 756.7,1232.5 759.4,1230.4 760,1224.1 762.6,1223 763,1216.1 781.5,1216.1 781.5,1223.7 793.1,1223.7 793.1,1231.4 809.3,1231.4 809.3,1239.4 834.1,1239.4 834.1,1247.2 854.1,1247.2 854.1,1254.6 871.6,1254.6 871.6,1262.1 886.7,1262.1 886.7,1270.5 902.5,1270.5 902.5,1278.5 908.4,1278.5 908.4,1286.7 930.9,1286.7 930.9,1294.7 943.5,1294.7 945.6,1273.7 947.3,1257.7 949.8,1237.8 951.9,1236.7 953,1223 957.2,1222 957.6,1214.6 973.6,1214.6 973.6,1222.4 988.5,1222.4 988.5,1229.8 1004.8,1229.8 1004.8,1237.3 1022.7,1237.3 1022.7,1245.5 1038.9,1245.5 1038.9,1253.5 1058.3,1253.5 1058.3,1261 1075.7,1261 1075.7,1268.8 1098.2,1268.8 1098.2,1276.8 1119.9,1276.8 1119.9,1284.6 1134.2,1284.6 1134.2,1292.2 1147.9,1292.2 1149.4,1271.6 1150.8,1257.7 1152.9,1245.1 1155,1243.4 1156.3,1229.3 1158.4,1227.9 1159.3,1220.3 1190.4,1220.3 1190.4,1228.3 1208.6,1228.3 1208.6,1236.1 1219.4,1236.1 1219.4,1244 1233.6,1244 1233.6,1251.8 1255.1,1251.8 1255.1,1259.6 1268.3,1259.6 1268.3,1267.4 1289.9,1267.4 1289.9,1275.2 1304.6,1275.2 1304.6,1283.1 1324.6,1283.1 1324.6,1290.5 1344.8,1290.5 1344.8,1298.5 1349,1298.5 1349.8,1282.1 1352.5,1259 1354.6,1245.1 1356.7,1227.2 1359.9,1225.1 1361,1218.2 1386.2,1218.2 1386.2,1225.8 1400.3,1225.8 1400.3,1233.5 1419.9,1233.5 1419.9,1241.5 1435.6,1241.5 1435.6,1249.4 1455.4,1249.4 1455.4,1257.4 1473.5,1257.4 1473.5,1265.2 1484,1265.2 1484,1272.6 1487.2,1272.6" fill="none" stroke="#ec745d" stroke-width="3" stroke-linejoin="round" stroke-linecap="butt" />
<polyline points="732,1259 1430.4,1259" fill="none" stroke="#7ec1ac" stroke-width="3" stroke-linejoin="round" stroke-linecap="butt" />
<circle cx="89" cy="1736.9" r="16" fill="#4b67c9"/>
<text x="114" y="1745.8" textLength="118.26" lengthAdjust="spacingAndGlyphs">Vitocrossal</text>
<text x="238.82" y="1745.8" textLength="39.12" lengthAdjust="spacingAndGlyphs">300</text>
<text x="284.48" y="1745.8" textLength="7.33" lengthAdjust="spacingAndGlyphs">-</text>
<text x="299" y="1745.8" textLength="101.19" lengthAdjust="spacingAndGlyphs">V200KW1</text>
<text x="410.28" y="1745.8" textLength="94.82" lengthAdjust="spacingAndGlyphs">Kesselt…</text>
<circle cx="544.8" cy="1737" r="16" fill="#ebbd5c"/>
<text x="569.6" y="1745.8" textLength="118.26" lengthAdjust="spacingAndGlyphs">Vitocrossal</text>
<text x="694.42" y="1745.8" textLength="39.12" lengthAdjust="spacingAndGlyphs">300</text>
<text x="740.08" y="1745.8" textLength="7.33" lengthAdjust="spacingAndGlyphs">-</text>
<text x="754.6" y="1745.8" textLength="101.19" lengthAdjust="spacingAndGlyphs">V200KW1</text>
<text x="865.6" y="1745.8" textLength="93.3" lengthAdjust="spacingAndGlyphs">Außent…</text>
<circle cx="1001" cy="1737" r="16" fill="#ec7864"/>
<text x="1025.8" y="1745.8" textLength="118.26" lengthAdjust="spacingAndGlyphs">Vitocrossal</text>
<text x="1150.62" y="1745.8" textLength="39.12" lengthAdjust="spacingAndGlyphs">300</text>
<text x="1196.28" y="1745.8" textLength="7.33" lengthAdjust="spacingAndGlyphs">-</text>
<text x="1210.8" y="1745.8" textLength="101.19" lengthAdjust="spacingAndGlyphs">V200KW1</text>
<text x="1322.2" y="1745.8" textLength="79.94" lengthAdjust="spacingAndGlyphs">Warm…</text>
<circle cx="544.8" cy="1801" r="16" fill="#82c0ae"/>
<text x="569.6" y="1809.8" textLength="118.26" lengthAdjust="spacingAndGlyphs">Vitocrossal</text>
<text x="694.42" y="1809.8" textLength="39.12" lengthAdjust="spacingAndGlyphs">300</text>
<text x="740.08" y="1809.8" textLength="7.33" lengthAdjust="spacingAndGlyphs">-</text>
<text x="754.6" y="1809.8" textLength="101.19" lengthAdjust="spacingAndGlyphs">V200KW1</text>
<text x="866" y="1809.8" textLength="79.94" lengthAdjust="spacingAndGlyphs">Warm…</text>
</svg>
</body>
</html>
